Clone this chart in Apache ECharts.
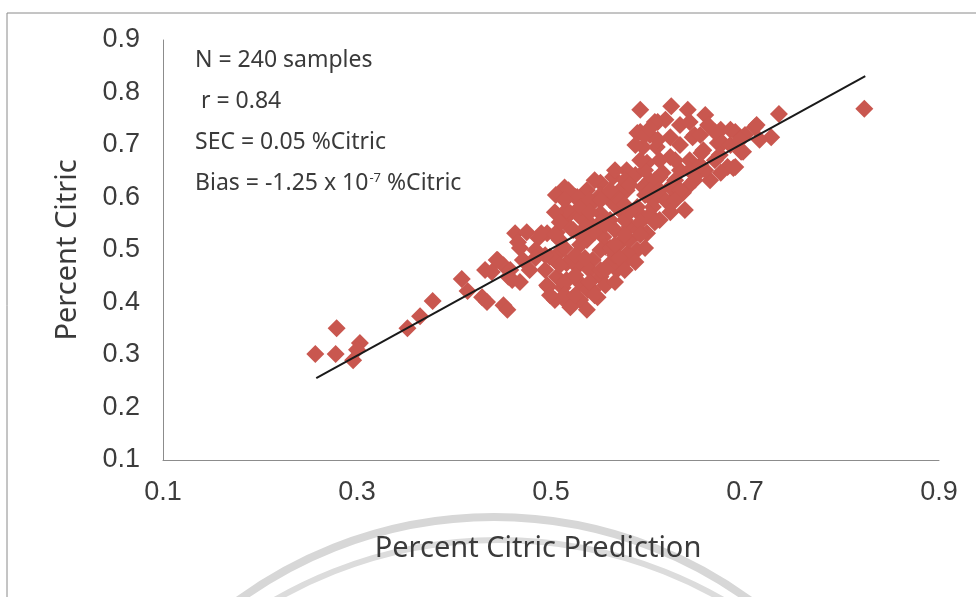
<!DOCTYPE html>
<html>
<head>
<meta charset="utf-8">
<title>Percent Citric</title>
<script src="https://cdn.jsdelivr.net/npm/echarts@6/dist/echarts.min.js"></script>
<style>
  html, body { margin: 0; padding: 0; background: #fff; }
  #main { width: 976px; height: 597px; }
</style>
</head>
<body>
<div id="main"></div>
<script>
var predicted = [
  0.257, 0.279, 0.278, 0.303, 0.300, 0.296,
  0.352, 0.365, 0.378, 0.408, 0.414, 0.429, 0.434, 0.451, 0.455,
  0.444, 0.451, 0.439, 0.460, 0.458, 0.471,
  0.463, 0.475, 0.466, 0.487, 0.496, 0.499, 0.509, 0.516,
  0.496, 0.506, 0.512, 0.523, 0.516, 0.506, 0.512, 0.520, 0.525, 0.520,
  0.592, 0.624, 0.641, 0.659, 0.610, 0.618, 0.592, 0.623, 0.648, 0.662, 0.675, 0.690, 0.710, 0.735, 0.727, 0.823,
  0.672, 0.696, 0.655, 0.682, 0.690, 0.675, 0.638, 0.652, 0.641, 0.628,
  0.646, 0.669, 0.685, 0.712, 0.677, 0.657, 0.698, 0.688, 0.664, 0.636, 0.623, 0.609, 0.615, 0.623,
  0.607, 0.589, 0.595, 0.610, 0.612, 0.599, 0.578, 0.564, 0.551, 0.537, 0.527, 0.543, 0.561, 0.578, 0.595, 0.612,
  0.605, 0.589, 0.571, 0.551, 0.530, 0.516, 0.530, 0.568, 0.605, 0.612, 0.599, 0.581, 0.561, 0.540, 0.523,
  0.537, 0.554, 0.571, 0.589, 0.578, 0.561, 0.543, 0.527, 0.516, 0.530, 0.551, 0.568, 0.543, 0.530, 0.520,
  0.537, 0.538, 0.556, 0.579, 0.590, 0.497, 0.504, 0.514, 0.490, 0.456, 0.445,
  0.505, 0.514, 0.571, 0.587, 0.602, 0.597, 0.566, 0.551, 0.540, 0.576, 0.592, 0.566, 0.545, 0.530,
  0.551, 0.566, 0.540, 0.556, 0.525, 0.509, 0.494, 0.484, 0.478, 0.504, 0.514,
  0.597, 0.633, 0.643, 0.628, 0.602, 0.633, 0.602, 0.618, 0.581, 0.587, 0.548,
  0.597, 0.654, 0.700, 0.587, 0.633, 0.685, 0.592, 0.628, 0.669, 0.566, 0.643, 0.659,
  0.545, 0.576, 0.607, 0.648, 0.518, 0.561, 0.602, 0.633, 0.514, 0.551, 0.571, 0.628,
  0.504, 0.540, 0.581, 0.623, 0.509, 0.551, 0.592, 0.607, 0.504, 0.530, 0.576, 0.592,
  0.468, 0.514, 0.561, 0.597, 0.484, 0.535, 0.571, 0.432, 0.494, 0.551, 0.576,
  0.468, 0.540, 0.566, 0.499, 0.525, 0.545,
  0.602, 0.643, 0.695, 0.715, 0.674, 0.654, 0.581, 0.612, 0.556, 0.576, 0.535, 0.566, 0.556, 0.525, 0.509
];
var measured = [
  0.302, 0.351, 0.302, 0.323, 0.310, 0.290,
  0.351, 0.374, 0.403, 0.445, 0.422, 0.410, 0.401, 0.395, 0.386,
  0.481, 0.471, 0.458, 0.443, 0.462, 0.481,
  0.532, 0.534, 0.515, 0.523, 0.532, 0.487, 0.496, 0.475,
  0.433, 0.449, 0.428, 0.410, 0.401, 0.534, 0.557, 0.570, 0.601, 0.542,
  0.767, 0.774, 0.767, 0.757, 0.744, 0.748, 0.725, 0.715, 0.719, 0.738, 0.729, 0.725, 0.734, 0.759, 0.715, 0.769,
  0.704, 0.687, 0.685, 0.658, 0.658, 0.647, 0.576, 0.647, 0.620, 0.601,
  0.715, 0.725, 0.729, 0.738, 0.704, 0.690, 0.687, 0.656, 0.633, 0.609, 0.677, 0.696, 0.647, 0.620,
  0.744, 0.723, 0.696, 0.710, 0.671, 0.666, 0.652, 0.639, 0.628, 0.614, 0.601, 0.590, 0.595, 0.614, 0.620, 0.639,
  0.595, 0.582, 0.576, 0.570, 0.563, 0.576, 0.582, 0.582, 0.582, 0.557, 0.532, 0.544, 0.557, 0.551, 0.538,
  0.519, 0.525, 0.513, 0.500, 0.481, 0.475, 0.481, 0.468, 0.443, 0.437, 0.449, 0.462, 0.424, 0.405, 0.391,
  0.386, 0.424, 0.506, 0.494, 0.538, 0.430, 0.481, 0.437, 0.532, 0.449, 0.481,
  0.605, 0.619, 0.614, 0.643, 0.633, 0.605, 0.605, 0.605, 0.595, 0.557, 0.567, 0.538, 0.534, 0.510,
  0.500, 0.490, 0.462, 0.433, 0.490, 0.519, 0.490, 0.500, 0.462, 0.405, 0.414,
  0.652, 0.652, 0.671, 0.633, 0.719, 0.738, 0.567, 0.595, 0.519, 0.477, 0.410,
  0.719, 0.719, 0.719, 0.700, 0.700, 0.700, 0.671, 0.671, 0.671, 0.652, 0.652, 0.652,
  0.633, 0.633, 0.633, 0.633, 0.614, 0.614, 0.614, 0.614, 0.595, 0.595, 0.595, 0.595,
  0.572, 0.572, 0.572, 0.572, 0.553, 0.553, 0.553, 0.553, 0.529, 0.529, 0.529, 0.529,
  0.504, 0.504, 0.504, 0.504, 0.485, 0.485, 0.485, 0.462, 0.462, 0.462, 0.462,
  0.439, 0.439, 0.439, 0.414, 0.414, 0.414,
  0.732, 0.744, 0.710, 0.710, 0.681, 0.662, 0.624, 0.614, 0.548, 0.586, 0.542, 0.510, 0.462, 0.452, 0.471
];

// regression line end points
var fitX = [0.258, 0.824];
var fitY = [0.256, 0.831];

var xTicks = [0.1, 0.3, 0.5, 0.7, 0.9];
var yTicks = [0.1, 0.2, 0.3, 0.4, 0.5, 0.6, 0.7, 0.8, 0.9];

var statLines = [
  'N = 240 samples',
  ' r = 0.84',
  'SEC = 0.05 %Citric',
  'Bias = -1.25 x 10{sup|-7} %Citric'
];

var points = [];
for (var i = 0; i < predicted.length; i++) {
  points.push([predicted[i], measured[i]]);
}
var fitLine = [[fitX[0], fitY[0]], [fitX[1], fitY[1]]];

var myChart = echarts.init(document.getElementById('main'), null, { renderer: 'canvas' });

var titleFont = '"Noto Sans", "Open Sans", sans-serif';
var tickFont = '"Liberation Sans", Arial, sans-serif';

// stat text, one line each
var statText = [];
for (var j = 0; j < statLines.length; j++) {
  statText.push({
    type: 'text',
    left: 195,
    top: 49 + j * 41,
    z: 10,
    style: {
      text: statLines[j],
      fill: '#3a3a3a',
      font: '23px ' + titleFont,
      rich: {
        sup: { fontSize: 13, fontFamily: titleFont, fill: '#3a3a3a', verticalAlign: 'top', padding: [0, 0, 10, 1] }
      }
    }
  });
}

var option = {
  backgroundColor: '#ffffff',
  animation: false,
  grid: { left: 163, right: 37, top: 40, bottom: 137 },
  xAxis: {
    type: 'value',
    min: xTicks[0],
    max: xTicks[xTicks.length - 1],
    interval: 0.2,
    name: 'Percent Citric Prediction',
    nameLocation: 'middle',
    nameGap: 74,
    nameTextStyle: { fontFamily: titleFont, fontSize: 29, color: '#3a3a3a', padding: [0, 26, 0, 0] },
    axisLine: { lineStyle: { color: '#8c8c8c', width: 1 } },
    axisTick: { show: false },
    splitLine: { show: false },
    axisLabel: {
      fontFamily: tickFont, fontSize: 27, color: '#3c3c3c', margin: 19,
      formatter: function (v) { return v.toFixed(1); }
    }
  },
  yAxis: {
    type: 'value',
    min: yTicks[0],
    max: yTicks[yTicks.length - 1],
    interval: 0.1,
    name: 'Percent Citric',
    nameLocation: 'middle',
    nameGap: 81,
    nameTextStyle: { fontFamily: titleFont, fontSize: 29, color: '#3a3a3a' },
    axisLine: { lineStyle: { color: '#8c8c8c', width: 1 } },
    axisTick: { show: false },
    splitLine: { show: false },
    axisLabel: {
      fontFamily: tickFont, fontSize: 27, color: '#3c3c3c', margin: 23,
      formatter: function (v) { return v.toFixed(1); }
    }
  },
  graphic: [
    // frame of the scanned figure
    {
      type: 'rect', z: -10, silent: true,
      shape: { x: 7, y: 13, width: 1000, height: 700 },
      style: { fill: 'none', stroke: '#8a8a8a', lineWidth: 1 }
    },
    // watermark arcs
    {
      type: 'arc', z: -5, silent: true,
      shape: { cx: 494, cy: 951, r: 434, startAngle: Math.PI, endAngle: Math.PI * 2 },
      style: { fill: 'none', stroke: '#d7d7d7', lineWidth: 8 }
    },
    {
      type: 'arc', z: -5, silent: true,
      shape: { cx: 499, cy: 989, r: 449, startAngle: Math.PI, endAngle: Math.PI * 2 },
      style: { fill: 'none', stroke: '#dcdcdc', lineWidth: 6 }
    }
  ].concat(statText),
  series: [
    {
      name: 'samples',
      type: 'scatter',
      symbol: 'diamond',
      symbolSize: 18,
      itemStyle: { color: '#c9574f', opacity: 1 },
      data: points,
      z: 2
    },
    {
      name: 'fit',
      type: 'line',
      data: fitLine,
      showSymbol: false,
      symbol: 'none',
      lineStyle: { color: '#1a1a1a', width: 2 },
      z: 3
    }
  ]
};

myChart.setOption(option);
</script>
</body>
</html>
